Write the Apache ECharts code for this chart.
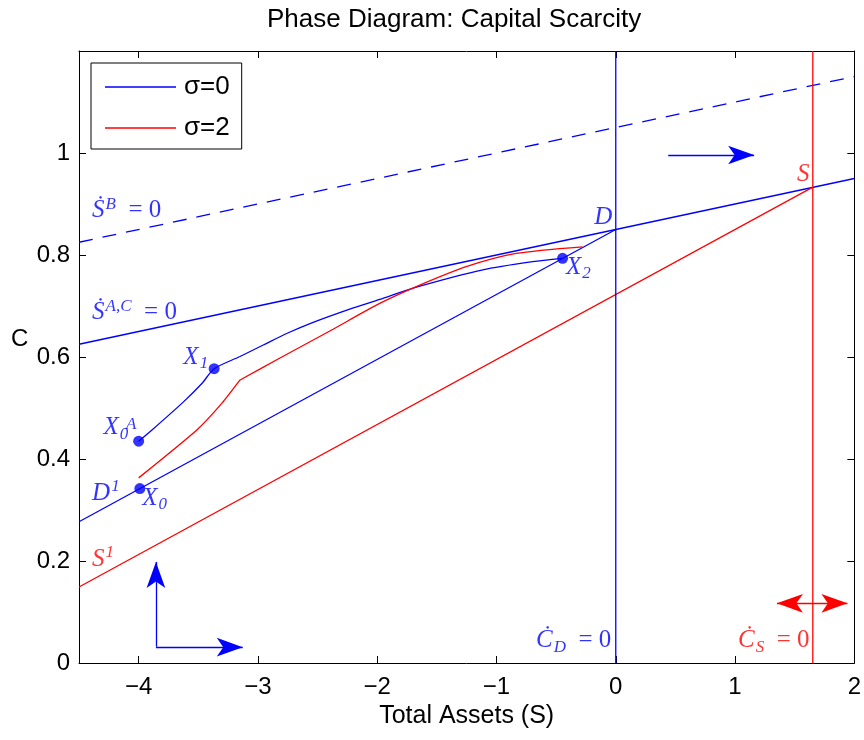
<!DOCTYPE html>
<html>
<head>
<meta charset="utf-8">
<script src="https://cdn.jsdelivr.net/npm/echarts@6/dist/echarts.min.js"></script>
<style>
  html, body { margin: 0; padding: 0; background: #fff; }
  #chart { width: 864px; height: 740px; }
</style>
</head>
<body>
<div id="chart"></div>
<script>
var chartDom = document.getElementById('chart');
var myChart = echarts.init(chartDom);
var option;

var BLUE = '#0000ff';
var RED = '#ff0000';

// tick positions
var xTicks = [-4, -3, -2, -1, 0, 1, 2];
var yTicks = [0, 0.2, 0.4, 0.6, 0.8, 1];

// nullclines, [x, y] end points
var sdotB = [[-4.5, 0.825], [2, 1.15]];
var sdotAC = [[-4.5, 0.625], [2, 0.95]];
var dLine = [[-4.5, 0.277], [0, 0.85]];
var sLine = [[-4.5, 0.149], [1.652, 0.933]];
var cdotD = [[0, 0], [0, 1.2]];
var cdotS = [[1.652, 0], [1.652, 1.2]];

// saddle path, sigma = 0 (X0A -> X1 -> X2)
var blueX = [-4.0, -3.888, -3.624, -3.47, -3.367, -3.15, -2.955, -2.75, -2.537, -2.23, -1.979, -1.672, -1.115, -0.697, -0.446];
var blueY = [0.435, 0.457, 0.512, 0.548, 0.577, 0.601, 0.6235, 0.647, 0.668, 0.694, 0.713, 0.737, 0.771, 0.787, 0.7935];

// saddle path, sigma = 2 (kink at index 3)
var redX = [-4.0, -3.512, -3.303, -3.15, -2.815, -2.397, -1.979, -1.672, -1.254, -0.836, -0.279];
var redY = [0.363, 0.457, 0.509, 0.555, 0.598, 0.651, 0.705, 0.738, 0.777, 0.803, 0.816];
var redKink = 3;

// marked points: X0A, X1, X0, X2
var dotX = [-4.0, -3.367, -3.99, -0.446];
var dotY = [0.435, 0.577, 0.342, 0.7935];

// direction arrows [from, to]
var blueArrows = [
  [[0.44, 0.996], [1.16, 0.996]],
  [[-3.855, 0.032], [-3.855, 0.198]],
  [[-3.855, 0.031], [-3.127, 0.031]]
];
var redArrow = [[1.351, 0.117], [1.942, 0.117]];

function zip(xs, ys) {
  return xs.map(function (x, i) { return [x, ys[i]]; });
}

// math annotations
var notes = [
  { t: '{it|Ṡ}{sup|B}{rm|\u2002= 0}', p: [-4.39, 0.887], c: BLUE },
  { t: '{it|Ṡ}{sup|A,C}{rm|\u2002= 0}', p: [-4.39, 0.687], c: BLUE },
  { t: '{it|D}', p: [-0.181, 0.8735], c: BLUE },
  { t: '{it|X}{sub|2}', p: [-0.418, 0.7755], c: BLUE },
  { t: '{it|S}', p: [1.519, 0.958], c: RED },
  { t: '{it|X}{sub|1}', p: [-3.625, 0.60], c: BLUE },
  { t: '{it|X}{sub|0}', p: [-4.294, 0.461], c: BLUE },
  { t: '{sup|A}', p: [-4.115, 0.468], c: BLUE },
  { t: '{it|D}{sup|1}', p: [-4.39, 0.333], c: BLUE },
  { t: '{it|X}{sub|0}', p: [-3.97, 0.3235], c: BLUE },
  { t: '{it|S}{sup|1}', p: [-4.39, 0.204], c: RED },
  { t: '{it|Ċ}{sub|D}{rm|\u2002= 0}', p: [-0.669, 0.044], c: BLUE },
  { t: '{it|Ċ}{sub|S}{rm|\u2002= 0}', p: [1.025, 0.044], c: RED }
];

var mathFont = 'Liberation Serif';
var rich = {
  it: { fontFamily: mathFont, fontStyle: 'italic', fontSize: 25, lineHeight: 30 },
  rm: { fontFamily: mathFont, fontSize: 25, lineHeight: 30 },
  sup: { fontFamily: mathFont, fontStyle: 'italic', fontSize: 17, lineHeight: 16, verticalAlign: 'top', padding: [0, 0, 0, 1] },
  sub: { fontFamily: mathFont, fontStyle: 'italic', fontSize: 17, lineHeight: 16, verticalAlign: 'bottom', padding: [0, 0, 0, 1] }
};

function curve(name, pts, color, opts) {
  var s = {
    name: name,
    type: 'line',
    data: pts,
    symbol: 'none',
    silent: true,
    lineStyle: { color: color, width: 1.3, type: 'solid' },
    itemStyle: { color: color },
    z: 3
  };
  return Object.assign(s, opts || {});
}

function arrowEnd(coord, color, withHead) {
  var e = { coord: coord, lineStyle: { color: color }, itemStyle: { color: color } };
  if (withHead) {
    e.symbol = 'arrow';
    e.symbolSize = [14, 26];
  } else {
    e.symbol = 'none';
  }
  return e;
}

option = {
  animation: false,
  backgroundColor: '#fff',
  title: {
    text: 'Phase Diagram: Capital Scarcity',
    left: 262,
    top: 2,
    textStyle: { fontFamily: 'Liberation Sans', fontSize: 26, fontWeight: 'normal', color: '#000' }
  },
  legend: {
    data: ['σ=0', 'σ=2'],
    orient: 'vertical',
    left: 91,
    top: 63,
    padding: [11, 12, 8, 14],
    itemGap: 15,
    itemWidth: 71,
    itemHeight: 1.5,
    icon: 'rect',
    borderColor: '#000',
    borderWidth: 1,
    backgroundColor: '#fff',
    textStyle: { fontFamily: 'Liberation Sans', fontSize: 26, color: '#000', padding: [0, 0, 0, 3] }
  },
  graphic: [
    {
      type: 'text', left: 11, top: 327,
      style: { text: 'C', fontFamily: 'Liberation Sans', fontSize: 24, fill: '#000' }
    }
  ],
  grid: { left: 79, right: 9, top: 51, bottom: 77, containLabel: false },
  xAxis: [
    {
      type: 'value', min: -4.5, max: 2,
      name: 'Total Assets (S)', nameLocation: 'middle', nameGap: 30,
      nameTextStyle: { fontFamily: 'Liberation Sans', fontSize: 25, color: '#000' },
      axisLine: { onZero: false, lineStyle: { color: '#000', width: 1 } },
      axisTick: { inside: true, length: 7, customValues: xTicks, lineStyle: { color: '#000' } },
      axisLabel: {
        customValues: xTicks, margin: 12, color: '#000', fontFamily: 'Liberation Sans', fontSize: 24,
        formatter: function (v) { return String(v).replace('-', '\u2212'); }
      },
      splitLine: { show: false }
    },
    {
      type: 'value', min: -4.5, max: 2, position: 'top',
      axisLine: { onZero: false, lineStyle: { color: '#000', width: 1 } },
      axisTick: { inside: true, length: 7, customValues: xTicks, lineStyle: { color: '#000' } },
      axisLabel: { show: false },
      splitLine: { show: false }
    }
  ],
  yAxis: [
    {
      type: 'value', min: 0, max: 1.2,
      axisLine: { onZero: false, lineStyle: { color: '#000', width: 1 } },
      axisTick: { inside: true, length: 7, customValues: yTicks, lineStyle: { color: '#000' } },
      axisLabel: {
        customValues: yTicks, margin: 9, color: '#000', fontFamily: 'Liberation Sans', fontSize: 24,
        formatter: function (v) { return String(+v.toFixed(1)); }
      },
      splitLine: { show: false }
    },
    {
      type: 'value', min: 0, max: 1.2, position: 'right',
      axisLine: { onZero: false, lineStyle: { color: '#000', width: 1 } },
      axisTick: { inside: true, length: 7, customValues: yTicks, lineStyle: { color: '#000' } },
      axisLabel: { show: false },
      splitLine: { show: false }
    }
  ],
  series: [
    curve('σ=0', sdotAC, BLUE),
    curve('σ=2', sLine, RED),
    curve('σ=0', sdotB, BLUE, { lineStyle: { color: BLUE, width: 1.3, type: [14, 10] } }),
    curve('σ=0', dLine, BLUE),
    curve('σ=0', cdotD, BLUE),
    curve('σ=2', cdotS, RED),
    curve('σ=0', zip(blueX, blueY), BLUE, { smooth: 0.25 }),
    curve('σ=2', zip(redX, redY).slice(0, redKink + 1), RED, { smooth: 0.2 }),
    curve('σ=2', zip(redX, redY).slice(redKink), RED, { smooth: 0.25 }),
    {
      name: 'points',
      type: 'scatter',
      data: zip(dotX, dotY),
      symbol: 'circle',
      symbolSize: 11,
      itemStyle: { color: BLUE },
      silent: true,
      z: 4
    },
    {
      name: 'arrows',
      type: 'line',
      data: [],
      silent: true,
      markLine: {
        silent: true,
        animation: false,
        label: { show: false },
        lineStyle: { color: BLUE, width: 1.3, type: 'solid' },
        emphasis: { disabled: true },
        data: blueArrows.map(function (a) {
          return [arrowEnd(a[0], BLUE, false), arrowEnd(a[1], BLUE, true)];
        }).concat([[arrowEnd(redArrow[0], RED, true), arrowEnd(redArrow[1], RED, true)]])
      }
    },
    {
      name: 'notes',
      type: 'scatter',
      silent: true,
      symbolSize: 0,
      z: 5,
      label: { show: true, position: 'right', distance: 0, rich: rich },
      data: notes.map(function (n) {
        return {
          value: n.p,
          label: { formatter: n.t, color: n.c }
        };
      })
    }
  ]
};

option && myChart.setOption(option);
</script>
</body>
</html>
